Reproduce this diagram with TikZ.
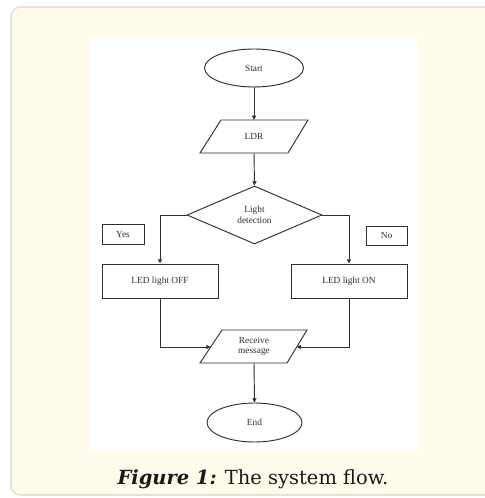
\documentclass[tikz,border=0pt]{standalone}
\usepackage{fontspec}
\setmainfont{Liberation Serif}
\newfontfamily\capfont{DejaVu Serif}
\usetikzlibrary{shapes.geometric,arrows.meta,calc}
\definecolor{panelfill}{HTML}{FFFBEA}
\definecolor{panelline}{HTML}{E4E2D6}
\definecolor{ink}{HTML}{2E2E2E}
\tikzset{
  lin/.style={draw=ink, line width=0.7pt},
  arr/.style={lin, -{Triangle[length=3.2pt,width=3pt]}},
  lbl/.style={font=\fontsize{7}{8}\selectfont, text=ink, align=center, inner sep=0pt},
  oval/.style={lbl, ellipse, lin, fill=white},
  boxed/.style={lbl, rectangle, lin, fill=white},
  decision/.style={lbl, diamond, lin, fill=white, minimum width=101.25pt, minimum height=43.5pt},
}
\begin{document}
\begin{tikzpicture}[x=0.75pt,y=-0.75pt]
\useasboundingbox (0,0) rectangle (484,498);
% outer panel
\path[fill=panelfill, draw=panelline, line width=1.2pt, rounded corners=7pt] (11,7) rectangle (520,495);
% white figure area
\fill[white] (90,37) rectangle (418,451);
% nodes
\node[oval, minimum width=74.25pt, minimum height=28.5pt] (start) at (254,68) {Start};
\coordinate (ldrTL) at (221,120);
\coordinate (ldrTR) at (308,120);
\coordinate (ldrBR) at (288,153);
\coordinate (ldrBL) at (200,153);
\path[lin, fill=white] (ldrTL) -- (ldrTR) -- (ldrBR) -- (ldrBL) -- cycle;
\node[lbl] (ldr) at (254,136.5) {LDR};
\coordinate (ldrtop) at (254,120);
\coordinate (ldrbot) at (254,153);
\node[decision] (dec) at (254.5,215) {Light\\detection};
\node[boxed, minimum width=31.5pt, minimum height=15pt] (yes) at (123,234) {Yes};
\node[boxed, minimum width=30.75pt, minimum height=14.25pt] (no) at (386.5,235.5) {No};
\node[boxed, minimum width=87pt, minimum height=25.5pt] (off) at (160,281) {LED light OFF};
\node[boxed, minimum width=87pt, minimum height=25.5pt] (on) at (349,281) {LED light ON};
\coordinate (rcTL) at (222,330);
\coordinate (rcTR) at (307,330);
\coordinate (rcBR) at (287,363);
\coordinate (rcBL) at (200,363);
\path[lin, fill=white] (rcTL) -- (rcTR) -- (rcBR) -- (rcBL) -- cycle;
\node[lbl] (rc) at (254,346.5) {Receive\\message};
\coordinate (rcleft) at (210.7,347);
\coordinate (rcright) at (296.7,347);
\coordinate (rcbot) at (254,363);
\node[oval, minimum width=71.25pt, minimum height=29.25pt] (end) at (254.5,422.5) {End};
% connectors
\draw[arr] (start.south) -- (ldrtop);
\draw[arr] (ldrbot) -- (dec.north);
\draw[arr] (dec.west) -| (off.north);
\draw[arr] (dec.east) -| (on.north);
\draw[arr] (off.south) |- (rcleft);
\draw[arr] (on.south) |- (rcright);
\draw[arr] (rcbot) -- (end.north);
% caption
\node[font=\capfont\fontsize{14.6}{17}\selectfont, text=black!90, inner sep=0pt] (cap) at (253,479) {\textbf{\textit{Figure 1:}} The system flow.};
\end{tikzpicture}
\end{document}
